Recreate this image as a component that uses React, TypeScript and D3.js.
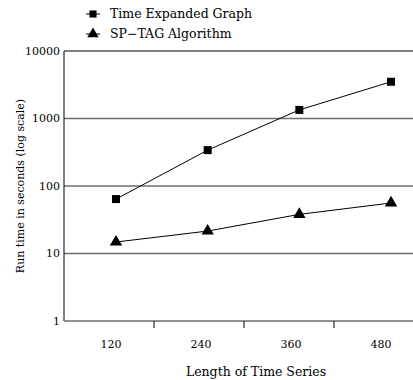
import React, { useEffect, useRef } from 'react';
import * as d3 from 'd3';

const lengths = ['120', '240', '360', '480'];
const timeExpanded = [64, 340, 1340, 3500];
const spTag = [14.8, 21.5, 38, 56];
const yTicks = [1, 10, 100, 1000, 10000];

const W = 413;
const H = 380;
const FONT = '"DejaVu Serif", serif';

const App: React.FC = () => {
  const svgRef = useRef<SVGSVGElement>(null);

  useEffect(() => {
    if (!svgRef.current) return;
    const svg = d3.select(svgRef.current);
    svg.selectAll('*').remove();

    const left = 64, right = 424, top = 51, bottom = 321;

    const y = d3.scaleLog().domain([1, 10000]).range([bottom, top]);
    // axis bands (ticks sit on band edges)
    const xBand = d3.scaleBand().domain(lengths).range([left, right]);
    // markers are shifted a bit right of the band centres in the original
    const xPt = d3.scalePoint().domain(lengths).range([116, 391]);

    // gridlines
    svg.append('g')
      .selectAll('line')
      .data(yTicks.slice(1))
      .join('line')
      .attr('x1', left)
      .attr('x2', W)
      .attr('y1', d => y(d))
      .attr('y2', d => y(d))
      .attr('stroke', d => (d === 10000 ? '#000' : '#6e6e6e'))
      .attr('stroke-width', d => (d === 10000 ? 1 : 1.5));

    // y axis line
    svg.append('line')
      .attr('x1', left).attr('x2', left)
      .attr('y1', top).attr('y2', bottom)
      .attr('stroke', '#000');

    // x axis line
    svg.append('line')
      .attr('x1', left).attr('x2', W)
      .attr('y1', bottom).attr('y2', bottom)
      .attr('stroke', '#6e6e6e')
      .attr('stroke-width', 1.5);

    // y tick labels
    svg.append('g')
      .selectAll('text')
      .data(yTicks)
      .join('text')
      .attr('x', left - 4)
      .attr('y', d => y(d))
      .attr('dy', '0.35em')
      .attr('text-anchor', 'end')
      .style('font-family', FONT)
      .style('font-size', '11px')
      .text(d => String(d));

    // x ticks at band boundaries
    svg.append('g')
      .selectAll('line')
      .data(lengths.slice(1))
      .join('line')
      .attr('x1', d => xBand(d) as number)
      .attr('x2', d => xBand(d) as number)
      .attr('y1', bottom)
      .attr('y2', bottom + 7)
      .attr('stroke', '#000');

    // x tick labels
    svg.append('g')
      .selectAll('text')
      .data(lengths)
      .join('text')
      .attr('x', d => (xBand(d) as number) + xBand.bandwidth() / 2 + 2)
      .attr('y', bottom + 27)
      .attr('text-anchor', 'middle')
      .style('font-family', FONT)
      .style('font-size', '11px')
      .text(d => d);

    // axis titles
    svg.append('text')
      .attr('x', 256)
      .attr('y', 376)
      .attr('text-anchor', 'middle')
      .style('font-family', FONT)
      .style('font-size', '12.5px')
      .text('Length of Time Series');

    svg.append('text')
      .attr('transform', `translate(24, ${(top + bottom) / 2}) rotate(-90)`)
      .attr('text-anchor', 'middle')
      .style('font-family', FONT)
      .style('font-size', '11px')
      .text('Run time in seconds (log scale)');

    const line = d3.line<number>()
      .x((d, i) => xPt(lengths[i]) as number)
      .y(d => y(d));

    const square = d3.symbol().type(d3.symbolSquare).size(64);
    const triangle = d3.symbol().type(d3.symbolTriangle).size(66);
    const legSquare = d3.symbol().type(d3.symbolSquare).size(50);
    const legTriangle = d3.symbol().type(d3.symbolTriangle).size(56);

    // Time Expanded Graph
    svg.append('path')
      .datum(timeExpanded)
      .attr('d', line)
      .attr('fill', 'none')
      .attr('stroke', '#000')
      .attr('stroke-width', 1);
    svg.append('g')
      .selectAll('path')
      .data(timeExpanded)
      .join('path')
      .attr('transform', (d, i) => `translate(${xPt(lengths[i])},${y(d)})`)
      .attr('d', square)
      .attr('fill', '#000');

    // SP-TAG
    svg.append('path')
      .datum(spTag)
      .attr('d', line)
      .attr('fill', 'none')
      .attr('stroke', '#000')
      .attr('stroke-width', 1);
    svg.append('g')
      .selectAll('path')
      .data(spTag)
      .join('path')
      .attr('transform', (d, i) => `translate(${xPt(lengths[i])},${y(d)})`)
      .attr('d', triangle)
      .attr('fill', '#000');

    // legend
    const legend = [
      { name: 'Time Expanded Graph', sym: legSquare, y: 14 },
      { name: 'SP\u2212TAG Algorithm', sym: legTriangle, y: 34 },
    ];
    const lg = svg.append('g');
    legend.forEach(item => {
      lg.append('line')
        .attr('x1', 86).attr('x2', 100)
        .attr('y1', item.y).attr('y2', item.y)
        .attr('stroke', '#000');
      lg.append('path')
        .attr('transform', `translate(93,${item.y})`)
        .attr('d', item.sym)
        .attr('fill', '#000');
      lg.append('text')
        .attr('x', 110)
        .attr('y', item.y)
        .attr('dy', '0.35em')
        .style('font-family', FONT)
        .style('font-size', '12.5px')
        .text(item.name);
    });
  }, []);

  return (
    <svg
      ref={svgRef}
      width={W}
      height={H}
      style={{ position: 'absolute', left: 0, top: 0, background: '#fff' }}
    />
  );
};

export default App;
